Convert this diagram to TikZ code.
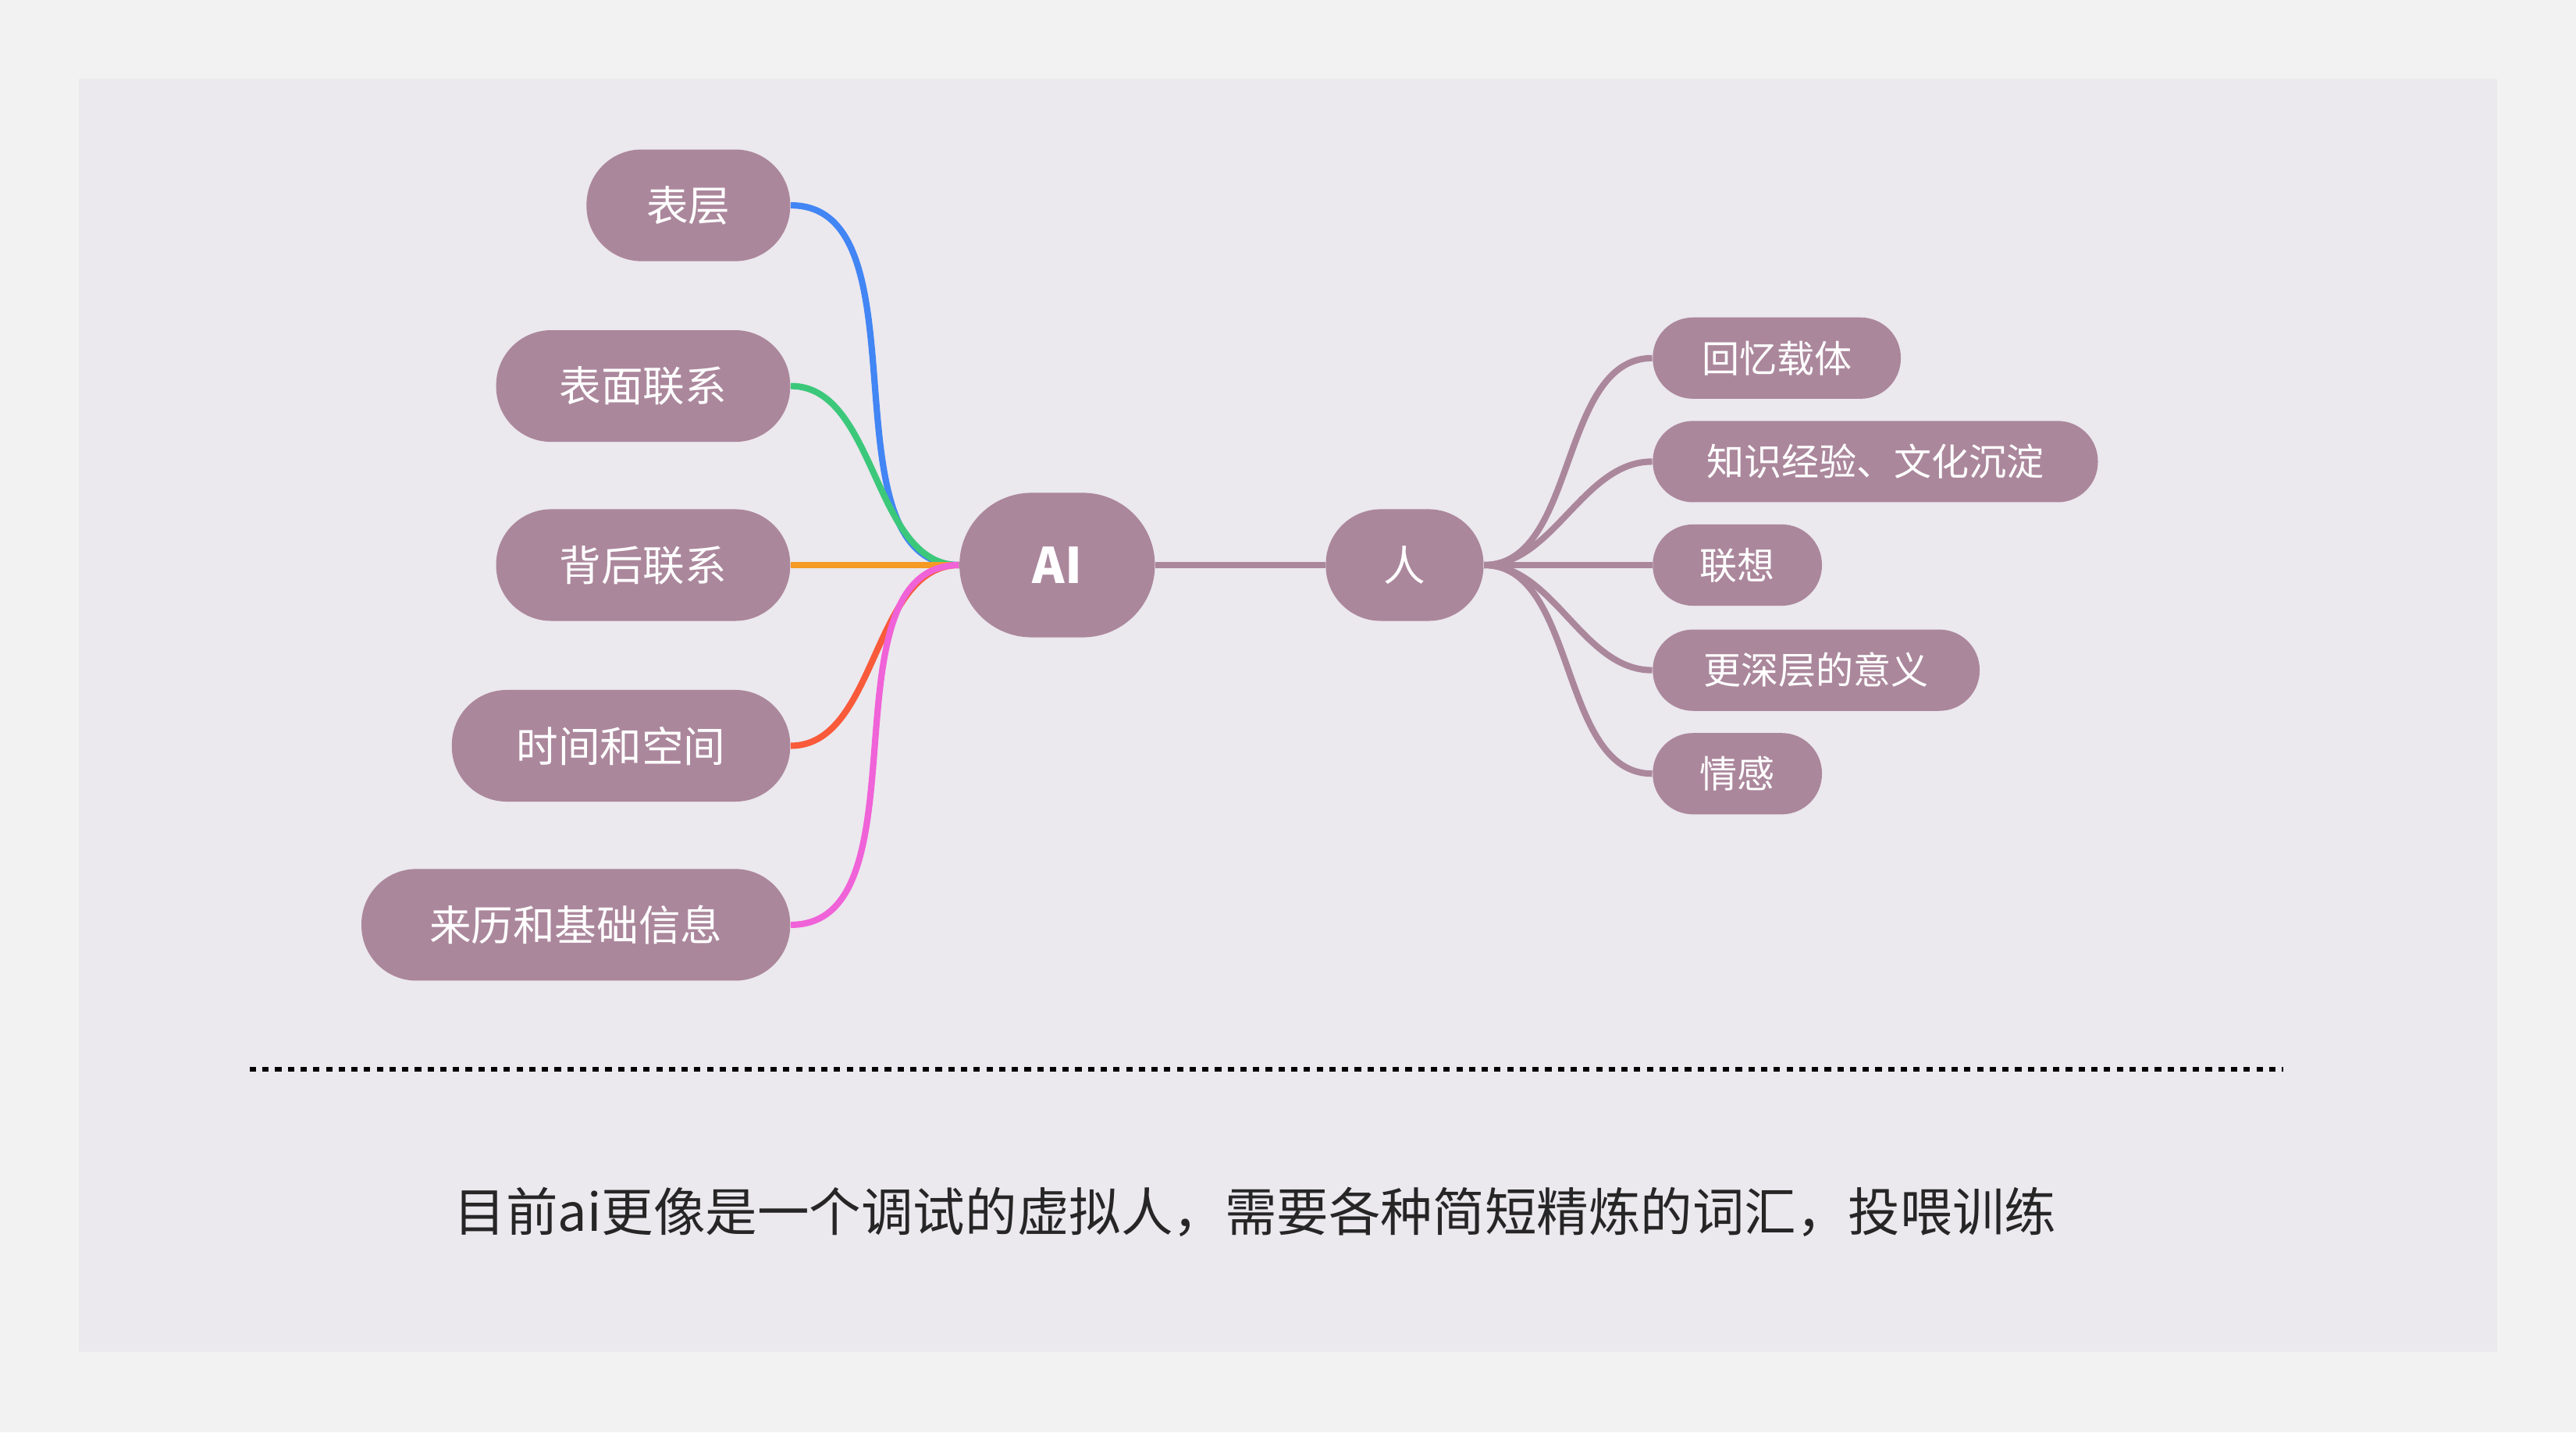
\documentclass[tikz,border=0pt]{standalone}
\usepackage{fontspec}
\setmainfont{Noto Sans CJK SC}
\begin{document}
\begin{tikzpicture}[x=0.02cm,y=-0.02cm,
  lnode/.style={fill=mauve,text=white,rounded corners=0.67cm,minimum height=1.36cm,inner sep=0pt,font=\fontsize{14.5}{16}\selectfont},
  rnode/.style={fill=mauve,text=white,rounded corners=0.49cm,minimum height=0.99cm,inner sep=0pt,font=\fontsize{13}{15}\selectfont},
  conn/.style={line width=2.2pt,out=0,in=180,looseness=0.9}]
\definecolor{mauve}{HTML}{AB879C}
\definecolor{bgout}{HTML}{F2F2F2}
\definecolor{panel}{HTML}{EBE8EE}
\definecolor{c1}{HTML}{4285F4}
\definecolor{c2}{HTML}{3CC87A}
\definecolor{c3}{HTML}{F59A23}
\definecolor{c4}{HTML}{F95A3A}
\definecolor{c5}{HTML}{F062D8}
\fill[bgout] (0,0) rectangle (1568,872);
\fill[panel] (48,48) rectangle (1520,823);
\node[lnode,minimum width=2.48cm] (n1) at (419,125) {表层};
\node[lnode,minimum width=3.58cm] (n2) at (391.5,235) {表面联系};
\node[lnode,minimum width=3.58cm] (n3) at (391.5,344) {背后联系};
\node[lnode,minimum width=4.12cm] (n4) at (378,454) {时间和空间};
\node[lnode,minimum width=5.22cm] (n5) at (350.5,563) {来历和基础信息};
\node[fill=mauve,text=white,rounded corners=0.88cm,minimum height=1.76cm,minimum width=2.38cm,inner sep=0pt,font=\fontsize{17}{19}\bfseries\selectfont] (ai) at (643.5,344) {AI};
\node[lnode,minimum width=1.92cm] (ren) at (855,344) {人};
\node[rnode,minimum width=3.02cm] (r1) at (1081.5,218) {回忆载体};
\node[rnode,minimum width=5.42cm] (r2) at (1141.5,281) {知识经验、文化沉淀};
\node[rnode,minimum width=2.06cm] (r3) at (1057.5,344) {联想};
\node[rnode,minimum width=3.98cm] (r4) at (1105.5,408) {更深层的意义};
\node[rnode,minimum width=2.06cm] (r5) at (1057.5,471) {情感};
\draw[conn,c1] (n1.east) to (ai.west);
\draw[conn,c2] (n2.east) to (ai.west);
\draw[conn,c3] (n3.east) to (ai.west);
\draw[conn,c4] (n4.east) to (ai.west);
\draw[conn,c5] (n5.east) to (ai.west);
\draw[mauve,line width=2.2pt] (ai.east) -- (ren.west);
\foreach \r in {r1,r2,r3,r4,r5}{\draw[conn,mauve] (ren.east) to (\r.west);}
\coordinate (d1) at (152,651); \coordinate (d2) at (1390,651);
\draw[line width=1.6pt,dash pattern=on 2.2pt off 2.2pt] (d1) -- (d2);
\node[font=\fontsize{18}{20}\selectfont,text=black!85] (cap) at (764,738) {目前ai更像是一个调试的虚拟人，需要各种简短精炼的词汇，投喂训练};
\end{tikzpicture}
\end{document}
